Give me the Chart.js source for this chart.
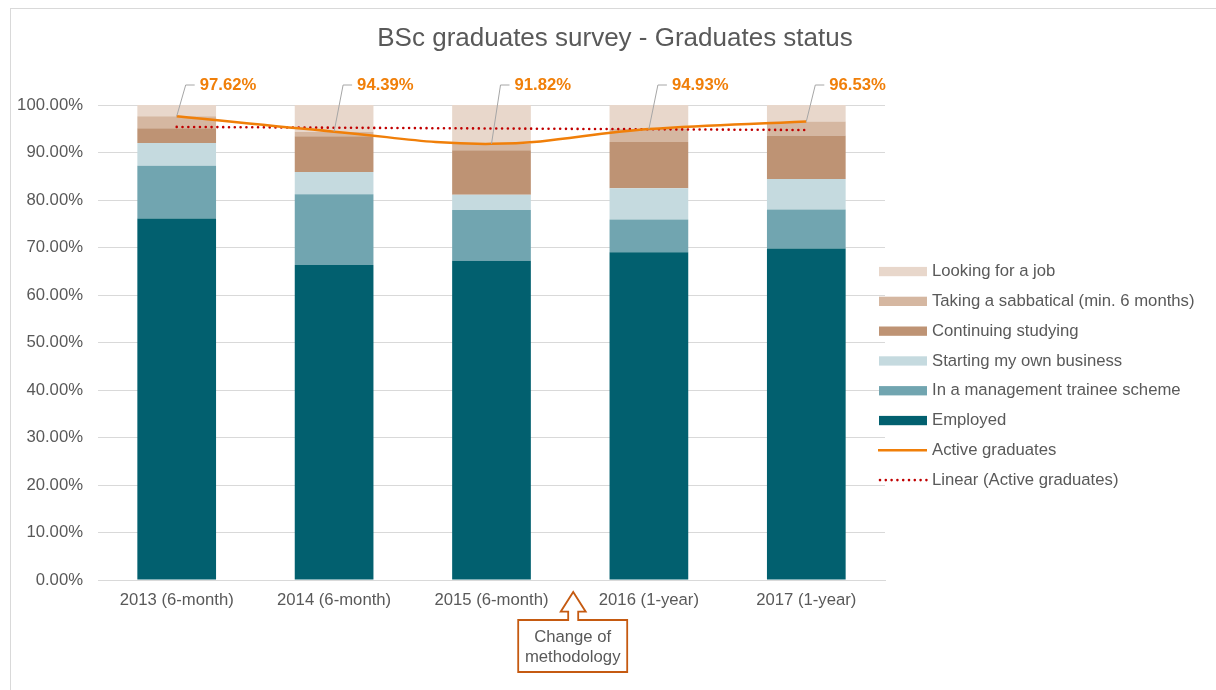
<!DOCTYPE html>
<html>
<head>
<meta charset="utf-8">
<script src="https://cdn.jsdelivr.net/npm/chart.js@4"></script>
<style>
    body { margin: 0; background: #fff; }
    #wrap { width: 1216px; height: 690px; position: relative; }
</style>
</head>
<body>
<div id="wrap"><canvas id="statusChart"></canvas></div>
<script>
"use strict";

const categories = ['2013 (6-month)', '2014 (6-month)', '2015 (6-month)', '2016 (1-year)', '2017 (1-year)'];
const employed = [76.1, 66.3, 67.2, 69.0, 69.8];
const trainee = [11.1, 14.9, 10.7, 6.9, 8.2];
const business = [4.8, 4.7, 3.2, 6.6, 6.4];
const studying = [3.1, 7.5, 9.4, 9.7, 9.2];
const sabbatical = [2.52, 0.99, 1.32, 2.73, 2.93];
const lookingForJob = [2.38, 5.61, 8.18, 5.07, 3.47];
const activeGraduates = [97.62, 94.39, 91.82, 94.93, 96.53];
const yTicks = [0, 10, 20, 30, 40, 50, 60, 70, 80, 90, 100];

// least squares trend of the active graduates (Excel "Linear" trendline)
function linearTrend(values) {
    const n = values.length;
    const mx = (n - 1) / 2;
    const my = values.reduce((a, b) => a + b, 0) / n;
    let num = 0, den = 0;
    values.forEach((v, i) => {
        num += (i - mx) * (v - my);
        den += (i - mx) * (i - mx);
    });
    const slope = num / den;
    return values.map((v, i) => my + slope * (i - mx));
}

const FONT = "'Liberation Sans', Arial, sans-serif";
const GREY = '#595959';
const ORANGE = '#F07F09';

Chart.defaults.font.family = FONT;
Chart.defaults.font.size = 16.7;
Chart.defaults.color = GREY;

const legendItems = [
    { text: 'Looking for a job', color: '#E8D7CB', kind: 'box' },
    { text: 'Taking a sabbatical (min. 6 months)', color: '#D5B7A1', kind: 'box' },
    { text: 'Continuing studying', color: '#BE9374', kind: 'box' },
    { text: 'Starting my own business', color: '#C5DADF', kind: 'box' },
    { text: 'In a management trainee scheme', color: '#71A5B0', kind: 'box' },
    { text: 'Employed', color: '#02606F', kind: 'box' },
    { text: 'Active graduates', color: ORANGE, kind: 'line' },
    { text: 'Linear (Active graduates)', color: '#C00000', kind: 'dots' }
];

const extras = {
    id: 'extras',
    beforeDraw(chart) {
        const ctx = chart.ctx;
        ctx.save();
        ctx.fillStyle = '#fff';
        ctx.fillRect(0, 0, chart.width, chart.height);
        ctx.strokeStyle = '#D9D9D9';
        ctx.lineWidth = 1;
        ctx.strokeRect(10.5, 8.5, chart.width + 20, chart.height + 20);
        ctx.restore();
    },
    afterDatasetsDraw(chart) {
        const ctx = chart.ctx;
        const area = chart.chartArea;
        const meta = chart.getDatasetMeta(6);
        const labelY = area.top - 20;
        ctx.save();
        meta.data.forEach((p, i) => {
            ctx.strokeStyle = '#A6A6A6';
            ctx.lineWidth = 1;
            ctx.beginPath();
            ctx.moveTo(p.x, p.y);
            ctx.lineTo(p.x + 9, labelY);
            ctx.lineTo(p.x + 18, labelY);
            ctx.stroke();
            ctx.fillStyle = ORANGE;
            ctx.font = 'bold 16.7px ' + FONT;
            ctx.textAlign = 'left';
            ctx.textBaseline = 'middle';
            ctx.fillText(activeGraduates[i].toFixed(2) + '%', p.x + 23, labelY);
        });
        ctx.restore();
    },
    afterDraw(chart) {
        const ctx = chart.ctx;
        ctx.save();

        // title
        ctx.fillStyle = GREY;
        ctx.font = '26px ' + FONT;
        ctx.textAlign = 'center';
        ctx.textBaseline = 'middle';
        ctx.fillText('BSc graduates survey - Graduates status', 615, 39);

        // legend
        let y = 271.5;
        legendItems.forEach(item => {
            if (item.kind === 'box') {
                ctx.fillStyle = item.color;
                ctx.fillRect(879, y - 4.6, 48, 9.3);
            } else if (item.kind === 'line') {
                ctx.strokeStyle = item.color;
                ctx.lineWidth = 2.5;
                ctx.beginPath();
                ctx.moveTo(878, y);
                ctx.lineTo(927, y);
                ctx.stroke();
            } else {
                ctx.fillStyle = item.color;
                for (let x = 880; x < 927; x += 5.8) {
                    ctx.beginPath();
                    ctx.arc(x, y, 1.3, 0, Math.PI * 2);
                    ctx.fill();
                }
            }
            ctx.fillStyle = GREY;
            ctx.font = '16.7px ' + FONT;
            ctx.textAlign = 'left';
            ctx.textBaseline = 'middle';
            ctx.fillText(item.text, 932, y);
            y += 29.8;
        });

        // "Change of methodology" callout between 2015 and 2016
        const tx = chart.scales.x.getPixelForValue(2.5) + 3;
        const ty = 592;
        const bx0 = tx - 55, bx1 = tx + 54;
        ctx.beginPath();
        ctx.moveTo(bx0, 620);
        ctx.lineTo(tx - 5, 620);
        ctx.lineTo(tx - 5, 611.7);
        ctx.lineTo(tx - 12.5, 611.7);
        ctx.lineTo(tx, ty);
        ctx.lineTo(tx + 12.5, 611.7);
        ctx.lineTo(tx + 5, 611.7);
        ctx.lineTo(tx + 5, 620);
        ctx.lineTo(bx1, 620);
        ctx.lineTo(bx1, 672);
        ctx.lineTo(bx0, 672);
        ctx.closePath();
        ctx.fillStyle = '#fff';
        ctx.fill();
        ctx.strokeStyle = '#C55A11';
        ctx.lineWidth = 1.8;
        ctx.stroke();
        ctx.fillStyle = GREY;
        ctx.font = '16.7px ' + FONT;
        ctx.textAlign = 'center';
        ctx.fillText('Change of', (bx0 + bx1) / 2, 637);
        ctx.fillText('methodology', (bx0 + bx1) / 2, 657);

        ctx.restore();
    }
};

new Chart(document.getElementById('statusChart'), {
    type: 'bar',
    data: {
        labels: categories,
        datasets: [
            { label: 'Employed', data: employed, backgroundColor: '#02606F', order: 2 },
            { label: 'In a management trainee scheme', data: trainee, backgroundColor: '#71A5B0', order: 2 },
            { label: 'Starting my own business', data: business, backgroundColor: '#C5DADF', order: 2 },
            { label: 'Continuing studying', data: studying, backgroundColor: '#BE9374', order: 2 },
            { label: 'Taking a sabbatical (min. 6 months)', data: sabbatical, backgroundColor: '#D5B7A1', order: 2 },
            { label: 'Looking for a job', data: lookingForJob, backgroundColor: '#E8D7CB', order: 2 },
            {
                type: 'line',
                label: 'Active graduates',
                data: activeGraduates,
                stack: 'active',
                borderColor: ORANGE,
                borderWidth: 2.5,
                pointRadius: 0,
                tension: 0.4,
                order: 0
            },
            {
                type: 'line',
                label: 'Linear (Active graduates)',
                data: linearTrend(activeGraduates),
                stack: 'trend',
                borderColor: '#C00000',
                borderWidth: 2.6,
                borderDash: [0.01, 5.8],
                borderCapStyle: 'round',
                pointRadius: 0,
                order: 1
            }
        ]
    },
    options: {
        responsive: true,
        maintainAspectRatio: false,
        animation: false,
        layout: {
            padding: { top: 105, right: 331, bottom: 0, left: 0 }
        },
        datasets: {
            bar: { categoryPercentage: 1, barPercentage: 0.5 }
        },
        scales: {
            x: {
                stacked: true,
                grid: { display: false },
                border: { color: '#D9D9D9' },
                ticks: { padding: 2, color: GREY },
                afterFit(scale) { scale.height = 110; }
            },
            y: {
                stacked: true,
                min: 0,
                max: 100,
                afterBuildTicks(scale) { scale.ticks = yTicks.map(v => ({ value: v })); },
                grid: { color: '#D9D9D9', drawTicks: false },
                border: { display: false },
                ticks: {
                    padding: 15,
                    color: GREY,
                    callback: v => v.toFixed(2) + '%'
                },
                afterFit(scale) { scale.width = 98; }
            }
        },
        plugins: {
            legend: { display: false },
            tooltip: { enabled: false },
            title: { display: false }
        }
    },
    plugins: [extras]
});
</script>
</body>
</html>
